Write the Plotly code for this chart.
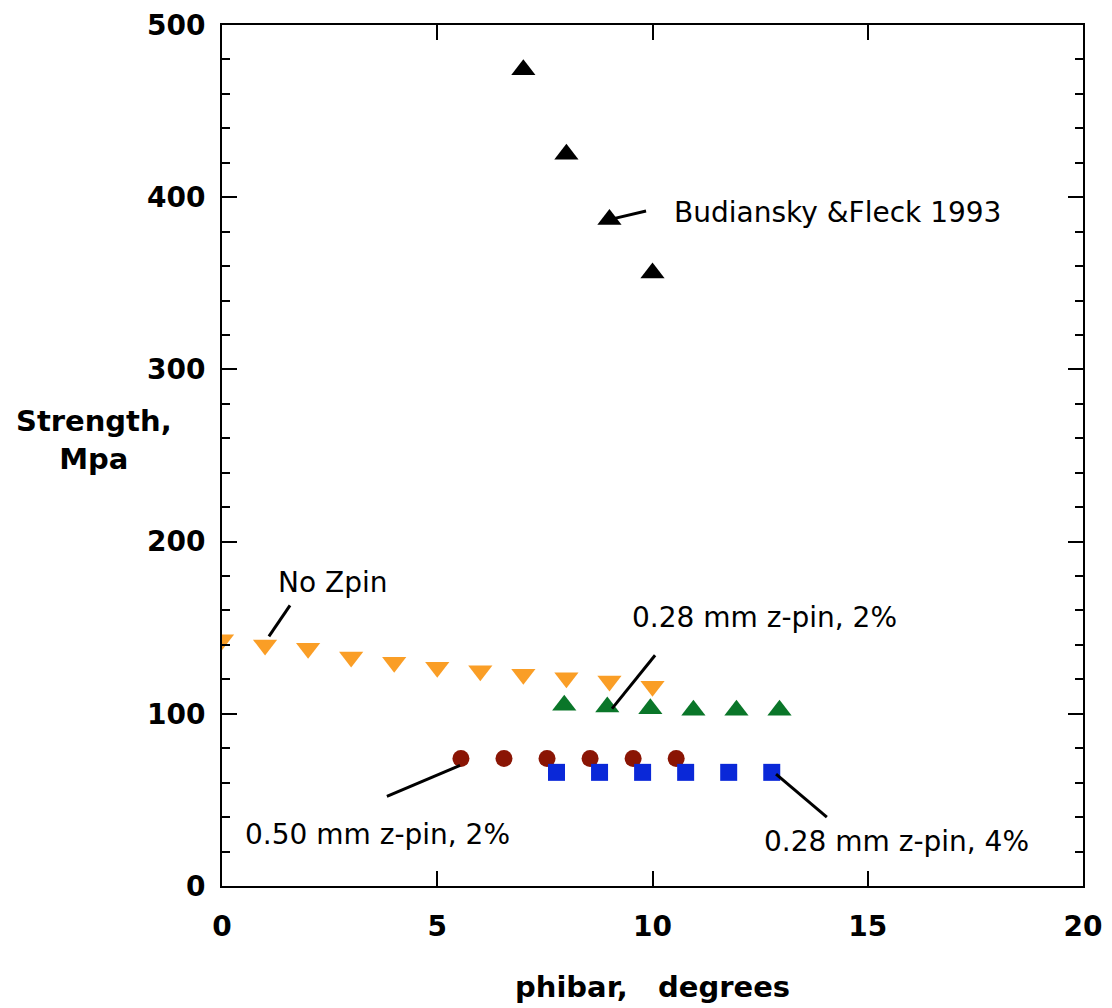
import plotly.graph_objects as go

# Data
bf_x = [7, 8, 9, 10]
bf_y = [474, 425, 387, 356]

nozpin_x = [0, 1, 2, 3, 4, 5, 6, 7, 8, 9, 10]
nozpin_y = [143, 140, 138, 133, 130, 127, 125, 123, 121, 119, 116]

z28_2_x = [7.95, 8.95, 9.95, 10.95, 11.95, 12.95]
z28_2_y = [105, 104, 103, 102, 102, 102]

z50_2_x = [5.55, 6.55, 7.55, 8.55, 9.55, 10.55]
z50_2_y = [74, 74, 74, 74, 74, 74]

z28_4_x = [7.77, 8.77, 9.77, 10.77, 11.77, 12.77]
z28_4_y = [66, 66, 66, 66, 66, 66]

x_ticks = [0, 5, 10, 15, 20]
y_ticks = [0, 100, 200, 300, 400, 500]

# Labels: (text, x, y, leader from (x0,y0) to (x1,y1))
labels = [
    ("Budiansky &Fleck 1993", 10.45, 391, (9.85, 392), (9.0, 387)),
    ("No Zpin", 1.25, 176, (1.58, 163), (1.09, 145)),
    ("0.28 mm z-pin, 2%", 9.48, 156, (10.06, 134), (9.06, 103)),
    ("0.50 mm z-pin, 2%", 0.49, 30, (3.83, 52), (5.53, 70)),
    ("0.28 mm z-pin, 4%", 12.54, 26, (12.87, 65), (14.05, 40)),
]

fig = go.Figure()
tri = 21
fig.add_trace(go.Scatter(x=nozpin_x, y=nozpin_y, mode="markers",
                         marker=dict(symbol="triangle-down", size=tri, color="#FA9E26")))
fig.add_trace(go.Scatter(x=z28_2_x, y=z28_2_y, mode="markers",
                         marker=dict(symbol="triangle-up", size=tri, color="#0A7629")))
fig.add_trace(go.Scatter(x=z50_2_x, y=z50_2_y, mode="markers",
                         marker=dict(symbol="circle", size=17, color="#8A1504")))
fig.add_trace(go.Scatter(x=z28_4_x, y=z28_4_y, mode="markers",
                         marker=dict(symbol="square", size=17, color="#0A28D8")))
fig.add_trace(go.Scatter(x=bf_x, y=bf_y, mode="markers",
                         marker=dict(symbol="triangle-up", size=tri, color="black")))

for text, tx, ty, p0, p1 in labels:
    fig.add_annotation(x=tx, y=ty, text=text, showarrow=False, xanchor="left",
                       yanchor="middle", font=dict(family="DejaVu Sans", size=28, color="black"))
    fig.add_shape(type="line", x0=p0[0], y0=p0[1], x1=p1[0], y1=p1[1],
                  xref="x", yref="y", line=dict(color="black", width=3))

tickfont = dict(family="DejaVu Sans", size=28, color="black", weight="bold")

fig.add_annotation(x=-0.149, y=0.518, xref="paper", yref="paper",
                   text="Strength,<br>Mpa", showarrow=False, xanchor="center", yanchor="middle",
                   font=dict(family="DejaVu Sans", size=29, color="black", weight="bold"))
fig.add_annotation(x=0.5, y=-0.117, xref="paper", yref="paper",
                   text="phibar,   degrees", showarrow=False, xanchor="center", yanchor="middle",
                   font=dict(family="DejaVu Sans", size=29, color="black", weight="bold"))

axis_common = dict(showline=True, linecolor="black", linewidth=2, mirror="ticks",
                   ticks="inside", tickcolor="black", tickwidth=2, ticklen=15,
                   showgrid=False, zeroline=False, tickfont=tickfont, automargin=False)

fig.update_xaxes(range=[0, 20], tickvals=x_ticks, ticktext=[str(v) for v in x_ticks],
                 ticklabelstandoff=14, **axis_common)
fig.update_yaxes(range=[0, 500], tickvals=y_ticks, ticktext=[str(v) for v in y_ticks],
                 minor=dict(dtick=20, ticks="inside", ticklen=8, tickwidth=2, tickcolor="black"),
                 ticklabelstandoff=9, **axis_common)

# page adds an 8px body margin; size the figure so the plot area lands where the reference has it
fig.update_layout(width=1104, height=1000, showlegend=False,
                  plot_bgcolor="white", paper_bgcolor="white",
                  margin=dict(l=214, r=29, t=17, b=122))

fig.write_html("out.html")
